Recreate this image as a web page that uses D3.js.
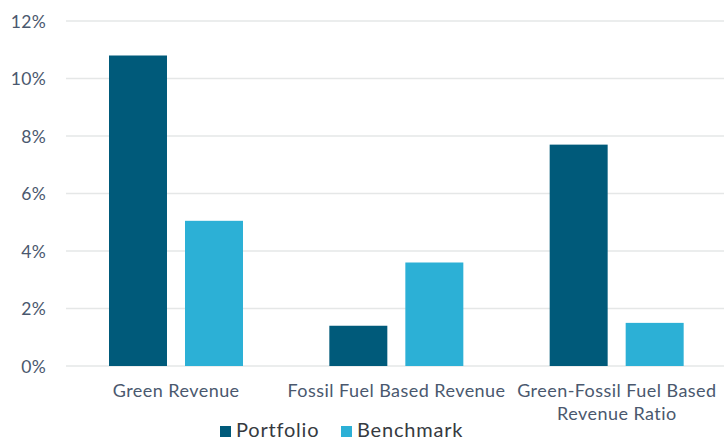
<!DOCTYPE html>
<html>
<head>
  <meta charset="utf-8">
  <style>
    html, body {
      margin: 0;
      padding: 0;
      background: #fff;
      width: 100%;
      height: 100%;
      overflow: hidden;
    }
    svg {
      display: block;
    }
    .tick text {
      font-family: Lato, sans-serif;
      fill: #4a586e;
    }
  </style>
</head>
<body>
  <svg width="724" height="441"></svg>

  <script src="https://d3js.org/d3.v7.min.js"></script>
  <script>
    const categories = ["Green Revenue", "Fossil Fuel Based Revenue", "Green-Fossil Fuel Based Revenue Ratio"];
    const catLines = [["Green Revenue"], ["Fossil Fuel Based Revenue"], ["Green-Fossil Fuel Based", "Revenue Ratio"]];
    const seriesNames = ["Portfolio", "Benchmark"];
    const portfolio = [10.8, 1.4, 7.7];
    const benchmark = [5.05, 3.6, 1.5];
    const yTicks = [0, 2, 4, 6, 8, 10, 12];
    const colors = ["#005a7a", "#2cb0d6"];

    const svg = d3.select("svg");
    const plotLeft = 66, plotRight = 727, plotTop = 21, plotBottom = 366;

    const x0 = d3.scaleBand().domain(categories).range([plotLeft, plotRight]).padding(0);
    const x1 = d3.scaleBand().domain(seriesNames).range([43, 177]).paddingInner(0.237).paddingOuter(0);
    const y = d3.scaleLinear().domain([0, 12]).range([plotBottom, plotTop]);
    const color = d3.scaleOrdinal().domain(seriesNames).range(colors);

    // grid
    svg.append("g")
      .selectAll("line")
      .data(yTicks)
      .join("line")
      .attr("x1", plotLeft)
      .attr("x2", 724)
      .attr("y1", d => y(d))
      .attr("y2", d => y(d))
      .attr("stroke", "#e5e7e7")
      .attr("stroke-width", 1.5);

    // y axis labels
    const yAxis = svg.append("g")
      .attr("transform", `translate(${plotLeft},0)`)
      .call(d3.axisLeft(y).tickValues(yTicks).tickFormat(d => d + "%").tickSize(0).tickPadding(20));
    yAxis.select(".domain").remove();
    yAxis.selectAll("text").attr("font-size", 17.5).attr("letter-spacing", 0.3).attr("dy", "0.35em");

    const rows = categories.map((c, i) => ({ cat: c, vals: [portfolio[i], benchmark[i]] }));

    svg.append("g")
      .selectAll("g")
      .data(rows)
      .join("g")
      .attr("transform", d => `translate(${x0(d.cat)},0)`)
      .selectAll("rect")
      .data(d => d.vals.map((v, j) => ({ key: seriesNames[j], v })))
      .join("rect")
      .attr("x", d => x1(d.key))
      .attr("width", x1.bandwidth())
      .attr("y", d => y(d.v))
      .attr("height", d => y(0) - y(d.v))
      .attr("fill", d => color(d.key));

    // category labels
    const catG = svg.append("g")
      .selectAll("text")
      .data(categories)
      .join("text")
      .attr("x", d => x0(d) + x0.bandwidth() / 2)
      .attr("y", 397)
      .attr("text-anchor", "middle")
      .attr("font-family", "Lato, sans-serif")
      .attr("font-size", 18)
      .attr("letter-spacing", 0.45)
      .attr("fill", "#4a586e");
    catG.selectAll("tspan")
      .data((d, i) => catLines[i])
      .join("tspan")
      .attr("x", function() { return this.parentNode.getAttribute("x"); })
      .attr("dy", (d, i) => i === 0 ? 0 : 23)
      .text(d => d);

    // legend
    const legendX = [220, 341];
    const leg = svg.append("g")
      .selectAll("g")
      .data(seriesNames)
      .join("g")
      .attr("transform", (d, i) => `translate(${legendX[i]},426)`);
    leg.append("rect")
      .attr("width", 11)
      .attr("height", 11)
      .attr("fill", d => color(d));
    leg.append("text")
      .attr("x", 16)
      .attr("y", 11)
      .attr("font-family", "Lato, sans-serif")
      .attr("font-size", 20)
      .attr("letter-spacing", 0.8)
      .attr("fill", "#363a3f")
      .text(d => d);
  </script>
</body>
</html>
